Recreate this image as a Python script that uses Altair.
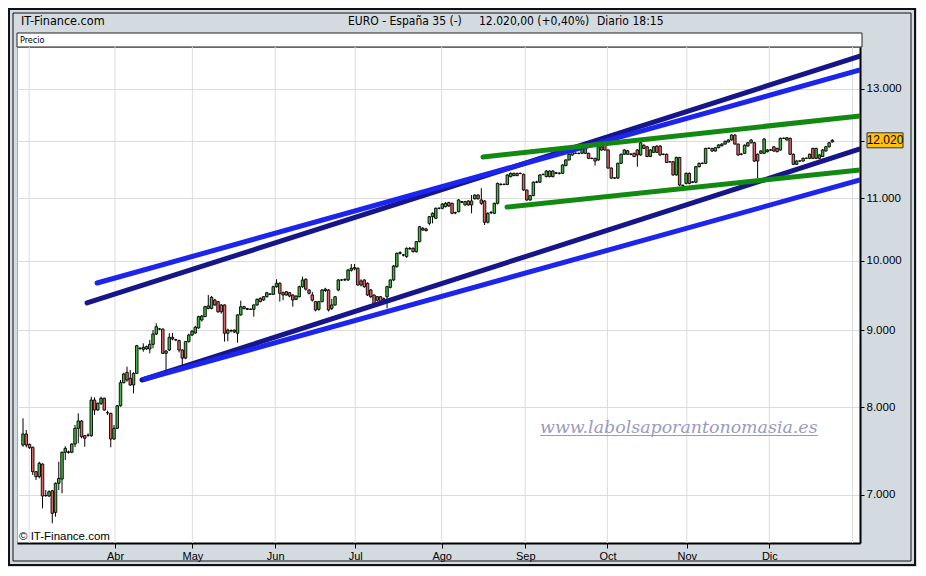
import json

import altair as alt
import pandas as pd

# daily candles (one per session)
opens = [
    7554, 7682, 7562, 7528, 7253, 7198, 7338, 6992, 6989, 7045,
    6817, 7126, 7172, 7471, 7475, 7471, 7565, 7749, 7836, 7662,
    7667, 7662, 8090, 7968, 8050, 8112, 7935, 7928, 7624, 7749,
    8020, 8307, 8439, 8363, 8278, 8426, 8749, 8741, 8745, 8745,
    8807, 8947, 9015, 9015, 8687, 8731, 8902, 8870, 8857, 8731,
    8624, 8844, 8933, 8960, 9030, 9140, 9187, 9303, 9303, 9423,
    9399, 9352, 9352, 8957, 8995, 8975, 8957, 9211, 9327, 9300,
    9290, 9290, 9352, 9446, 9423, 9470, 9510, 9505, 9616, 9666,
    9495, 9542, 9528, 9495, 9432, 9470, 9616, 9725,
    9568, 9495, 9399, 9290, 9399, 9560, 9568, 9303, 9352, 9568,
    9715, 9715, 9715, 9860, 9880, 9890, 9700, 9715, 9666, 9568,
    9495, 9420, 9470, 9420, 9470, 9606, 9715, 9914, 10118, 10092,
    10066, 10190, 10195, 10143, 10299, 10511, 10500, 10591, 10699, 10673,
    10837, 10837, 10864, 10930, 10919, 10760, 10781,
    10947, 10892, 10958, 10892, 10995, 11058, 10975, 10958, 10608, 10764,
    10754, 10919, 11238, 11240, 11238, 11372, 11390, 11430, 11430, 11412,
    11143, 10975, 11047, 11276, 11276, 11412, 11372, 11470, 11372, 11430,
    11430, 11430, 11565, 11665, 11754, 11784, 11780, 11784, 11872, 11784,
    11694, 11694, 11665, 11901, 11930, 11844, 11522, 11350, 11347, 11605,
    11767, 11830,
    11767, 11784, 11844, 11754, 11930, 11901, 11727, 11801, 11915, 11915,
    11767, 11767, 11633, 11633, 11401, 11710, 11216, 11256, 11430, 11276,
    11276, 11545, 11605, 11605, 11872, 11872, 11825, 11885, 11920, 11951,
    11990, 12026, 12117, 11951, 11767, 11784, 11975, 11975, 11975, 11767,
    11784, 11784, 11813, 11844, 11901, 11872, 11844, 12056, 12026, 12056,
    11767, 11588, 11646, 11646, 11694, 11694, 11872, 11694, 11754, 11727,
    11825, 11901, 11990,
]
highs = [
    7868, 7729, 7570, 7535, 7260, 7364, 7345, 7053, 7050, 7055,
    7135, 7364, 7480, 7540, 7490, 7575, 7788, 7928, 7845, 7670,
    7690, 8131, 8124, 8060, 8131, 8120, 7960, 7935, 7788, 8030,
    8341, 8434, 8512, 8469, 8440, 8800, 8770, 8821, 8790, 8866,
    9002, 9094, 9030, 9020, 8730, 8957, 8960, 8880, 8870, 8740,
    8850, 8950, 9000, 9060, 9200, 9210, 9340, 9495, 9480, 9440,
    9410, 9360, 9360, 9020, 9010, 9010, 9220, 9413, 9340, 9310,
    9300, 9360, 9445, 9460, 9480, 9540, 9520, 9630, 9725, 9680,
    9545, 9550, 9540, 9505, 9490, 9630, 9764, 9740,
    9580, 9540, 9410, 9410, 9580, 9600, 9580, 9440, 9480, 9730,
    9730, 9740, 9880, 9954, 9954, 9900, 9725, 9725, 9680, 9580,
    9500, 9480, 9480, 9460, 9630, 9725, 9940, 10130, 10150, 10110,
    10210, 10215, 10210, 10310, 10550, 10530, 10520, 10710, 10770, 10850,
    10850, 10920, 10940, 10945, 10930, 10780, 10990,
    10960, 10960, 10970, 11058, 11070, 11070, 11173, 10970, 10770, 10790,
    10930, 11270, 11260, 11255, 11415, 11445, 11440, 11440, 11440, 11425,
    11150, 11060, 11290, 11300, 11415, 11425, 11485, 11480, 11485, 11455,
    11445, 11590, 11680, 11780, 11830, 11800, 11800, 11890, 11885, 11795,
    11710, 11705, 11915, 11915, 11945, 11855, 11535, 11360, 11620, 11780,
    11860, 11845,
    11785, 11795, 11860, 11990, 11945, 11915, 11860, 11915, 11930, 11930,
    11780, 11780, 11645, 11645, 11725, 11720, 11240, 11445, 11445, 11295,
    11560, 11620, 11620, 11885, 11890, 11885, 11900, 11950, 11965, 12015,
    12040, 12130, 12130, 11960, 11785, 11945, 11990, 12040, 11990, 11780,
    11840, 12060, 11860, 11860, 11915, 11885, 12070, 12070, 12080, 12070,
    11780, 11660, 11660, 11710, 11710, 11780, 11885, 11885, 11770, 11860,
    11915, 11990, 12040,
]
lows = [
    7534, 7528, 7510, 7217, 7162, 7180, 6859, 6982, 6980, 6704,
    6772, 7053, 7018, 7383, 7455, 7460, 7530, 7574, 7632, 7534,
    7650, 7650, 7908, 7960, 8029, 7960, 7910, 7528, 7612, 7740,
    8008, 8299, 8319, 8265, 8174, 8420, 8735, 8709, 8735, 8687,
    8754, 8933, 9000, 8680, 8469, 8718, 8860, 8850, 8700, 8533,
    8610, 8830, 8920, 8950, 9020, 9120, 9180, 9290, 9290, 9340,
    9240, 9230, 8844, 8850, 8970, 8960, 8830, 9200, 9290, 9280,
    9280, 9187, 9340, 9390, 9410, 9460, 9495, 9495, 9600, 9399,
    9420, 9485, 9460, 9327, 9420, 9460, 9600, 9560,
    9500, 9400, 9260, 9270, 9390, 9540, 9260, 9280, 9340, 9550,
    9700, 9700, 9700, 9840, 9860, 9630, 9620, 9600, 9480, 9450,
    9340, 9400, 9380, 9400, 9303, 9590, 9700, 9900, 10100, 10070,
    10050, 10170, 10130, 10130, 10290, 10470, 10460, 10560, 10591, 10660,
    10820, 10820, 10850, 10860, 10740, 10740, 10770,
    10920, 10880, 10880, 10754, 10980, 10980, 10892, 10564, 10590, 10740,
    10740, 10900, 11220, 11225, 11225, 11360, 11380, 11380, 11415, 11130,
    10960, 10960, 11040, 11260, 11265, 11395, 11360, 11360, 11360, 11420,
    11410, 11420, 11555, 11655, 11740, 11770, 11765, 11770, 11770, 11680,
    11680, 11565, 11650, 11830, 11830, 11510, 11335, 11335, 11335, 11595,
    11755, 11755,
    11750, 11715, 11545, 11740, 11860, 11715, 11715, 11790, 11790, 11740,
    11750, 11610, 11620, 11390, 11390, 11210, 11200, 11240, 11240, 11260,
    11260, 11535, 11590, 11595, 11860, 11810, 11815, 11875, 11910, 11940,
    11980, 12015, 11940, 11740, 11750, 11770, 11905, 11960, 11630, 11347,
    11770, 11770, 11800, 11830, 11810, 11800, 11830, 12045, 12015, 11755,
    11575, 11575, 11635, 11635, 11680, 11680, 11680, 11680, 11680, 11715,
    11815, 11890, 11980,
]
closes = [
    7682, 7554, 7523, 7253, 7198, 7346, 6989, 6995, 7035, 6807,
    7126, 7180, 7471, 7516, 7471, 7565, 7749, 7836, 7650, 7632,
    7667, 8090, 7968, 8050, 8112, 7968, 7935, 7624, 7749, 8020,
    8307, 8417, 8341, 8278, 8426, 8789, 8755, 8767, 8776, 8807,
    8947, 9047, 9015, 8687, 8718, 8902, 8880, 8866, 8731, 8624,
    8844, 8933, 8985, 9040, 9187, 9195, 9327, 9337, 9461, 9352,
    9255, 9255, 8957, 9000, 8990, 9000, 9211, 9327, 9300, 9290,
    9292, 9352, 9432, 9399, 9470, 9528, 9505, 9616, 9666, 9520,
    9528, 9495, 9480, 9423, 9480, 9616, 9715, 9580,
    9520, 9420, 9280, 9399, 9568, 9580, 9280, 9352, 9470, 9715,
    9715, 9720, 9864, 9890, 9900, 9641, 9641, 9616, 9495, 9470,
    9352, 9470, 9399, 9440, 9616, 9715, 9924, 10118, 10128, 10092,
    10195, 10195, 10143, 10299, 10537, 10484, 10474, 10699, 10754, 10837,
    10837, 10908, 10919, 10875, 10754, 10765, 10975,
    10936, 10947, 10892, 10958, 11058, 10995, 10919, 10608, 10754, 10770,
    10919, 11256, 11240, 11238, 11401, 11430, 11430, 11390, 11428, 11143,
    10975, 11047, 11276, 11280, 11401, 11410, 11470, 11372, 11470, 11440,
    11432, 11576, 11665, 11767, 11813, 11786, 11784, 11872, 11784, 11694,
    11690, 11646, 11901, 11844, 11844, 11522, 11347, 11347, 11605, 11767,
    11844, 11767,
    11770, 11727, 11754, 11975, 11872, 11727, 11844, 11901, 11801, 11754,
    11765, 11621, 11630, 11401, 11710, 11228, 11220, 11430, 11256, 11280,
    11545, 11605, 11607, 11872, 11875, 11825, 11885, 11935, 11951, 12000,
    12026, 12117, 11951, 11754, 11770, 11930, 11915, 12026, 11646, 11646,
    11825, 12044, 11844, 11846, 11825, 11813, 12056, 12058, 12067, 11767,
    11588, 11646, 11648, 11694, 11696, 11767, 11694, 11872, 11694, 11844,
    11901, 11975, 12020,
]

# month boundaries, in session index units
month_pos = [1.9, 28.3, 52.1, 77.6, 102.2, 128.8, 154.5, 179.8, 204.2, 229.6, 255.2]
month_names = ["Mar", "Abr", "May", "Jun", "Jul", "Ago", "Sep", "Oct", "Nov", "Dic", "Ene"]
price_ticks = [7000, 8000, 9000, 10000, 11000, 12000, 13000]

# hand drawn trend lines: (session, price) at both ends
line_names = ["canal_sup", "canal_sup2", "canal_inf", "canal_inf2", "verde_sup", "verde_inf"]
line_x0 = [19.7, 22.8, 36.6, 37.5, 141.5, 148.9]
line_p0 = [9380, 9670, 8341, 8354, 11718, 10858]
line_x1 = [257.5, 257.5, 257.5, 257.5, 257.5, 257.5]
line_p1 = [13665, 13380, 11862, 11314, 12474, 11488]
line_colors = ["#16168a", "#1c24f0", "#16168a", "#1c24f0", "#128a12", "#128a12"]

last_label = f"{closes[-1]:,}".replace(",", ".")

candles = pd.DataFrame(
    {"idx": range(len(closes)), "open": opens, "high": highs, "low": lows, "close": closes}
)
lines = pd.DataFrame(
    {
        "name": line_names + line_names,
        "idx": line_x0 + line_x1,
        "price": line_p0 + line_p1,
    }
)
grid = pd.DataFrame({"pos": month_pos})
last = pd.DataFrame({"price": [closes[-1]], "label": [last_label]})
deco = pd.DataFrame({"a": [0]})

xs = alt.Scale(domain=[-1.85, 257.5], nice=False, zero=False, padding=0)
ys = alt.Scale(type="log", domain=[6506, 13857], nice=False)

x_axis = alt.Axis(
    values=month_pos[1:-1],
    labelExpr=f"{json.dumps(month_names[1:-1])}[indexof({json.dumps(month_pos[1:-1])}, datum.value)]",
    grid=False,
    domainColor="black",
    domainWidth=2,
    tickColor="black",
    tickSize=5,
    labelPadding=2,
    labelFlush=False,
    title=None,
)
# the 12.000 label sits under the last-price box, so it is left blank
y_axis = alt.Axis(
    orient="right",
    values=price_ticks,
    labelExpr="datum.value == 12000 ? '' : replace(format(datum.value, ',d'), ',', '.')",
    grid=True,
    gridColor="#dcdcdc",
    domainColor="black",
    domainWidth=2,
    tickColor="black",
    tickSize=4,
    labelPadding=2,
    labelFontSize=11.5,
    title=None,
)

narrow = "Liberation Sans Narrow, DejaVu Sans Condensed, sans-serif"


def box(x, x2, y, y2, **kw):
    return alt.Chart(deco).mark_rect(**kw).encode(
        x=alt.value(x), x2=alt.value(x2), y=alt.value(y), y2=alt.value(y2)
    )


def label(text, x, y, **kw):
    return alt.Chart(deco).mark_text(text=text, align="left", baseline="middle", **kw).encode(
        x=alt.value(x), y=alt.value(y)
    )


frame_outer = box(-8, 898, -38, 518, fillOpacity=0, stroke="#111111", strokeWidth=2)
frame_inner = box(-4, 894, -34, 514, fillOpacity=0, stroke="#111111", strokeWidth=1)
precio_strip = box(0, 845, -14, 0, fill="white", stroke="#222222", strokeWidth=1)

header = alt.layer(
    label("IT-Finance.com", 4, -26, font=narrow, fontSize=12.5),
    label("EURO - España 35 (-)", 331, -26, font=narrow, fontSize=12),
    label("12.020,00 (+0,40%)", 462, -26, font=narrow, fontSize=12),
    label("Diario  18:15", 580, -26, font=narrow, fontSize=12),
    label("Precio", 3, -7, font=narrow, fontSize=9),
)

vgrid = alt.Chart(grid).mark_rule(color="#dcdcdc", strokeWidth=1).encode(
    x=alt.X("pos:Q", scale=xs, axis=x_axis)
)

wicks = alt.Chart(candles).mark_rule(color="black", strokeWidth=1).encode(
    x=alt.X("idx:Q", scale=xs, axis=x_axis),
    y=alt.Y("low:Q", scale=ys, axis=y_axis),
    y2="high:Q",
)
bodies = alt.Chart(candles).mark_bar(size=2.5, stroke="black", strokeWidth=0.9).encode(
    x=alt.X("idx:Q", scale=xs, axis=x_axis),
    y=alt.Y("open:Q", scale=ys, axis=y_axis),
    y2="close:Q",
    color=alt.condition("datum.open <= datum.close", alt.value("#3fb83f"), alt.value("#dc6464")),
)

trend = alt.Chart(lines).mark_line(strokeWidth=5, strokeCap="round", clip=True).encode(
    x=alt.X("idx:Q", scale=xs, axis=x_axis),
    y=alt.Y("price:Q", scale=ys, axis=y_axis),
    color=alt.Color("name:N", scale=alt.Scale(domain=line_names, range=line_colors), legend=None),
    detail="name:N",
)

watermark = alt.layer(
    alt.Chart(deco).mark_text(
        text="www.labolsaporantonomasia.es",
        align="left",
        baseline="alphabetic",
        font="DejaVu Serif",
        fontStyle="italic",
        fontSize=17.4,
        color="#9a9abf",
    ).encode(x=alt.value(523), y=alt.value(386)),
    alt.Chart(deco).mark_rule(color="#9a9abf", strokeWidth=1).encode(
        x=alt.value(523), x2=alt.value(801), y=alt.value(388.5)
    ),
)
copyright = label("© IT-Finance.com", 2, 490, font="Liberation Sans", fontSize=11.5, color="black")

price_box = alt.Chart(last).mark_rect(
    fill="#ffc20e", stroke="#333333", strokeWidth=1, yOffset=-7.5, y2Offset=7.5
).encode(
    x=alt.value(850), x2=alt.value(886),
    y=alt.Y("price:Q", scale=ys, axis=y_axis), y2="price:Q",
)
price_text = alt.Chart(last).mark_text(
    align="center", baseline="middle", font="Liberation Sans", fontSize=12, color="black"
).encode(
    x=alt.value(868), y=alt.Y("price:Q", scale=ys, axis=y_axis), text="label:N"
)

chart = (
    alt.layer(
        frame_outer, frame_inner, precio_strip, header,
        vgrid, wicks, bodies, trend,
        watermark, copyright, price_box, price_text,
    )
    .properties(
        width=843,
        height=496,
        padding={"left": 9, "top": 39, "right": 57, "bottom": 24},
        autosize=alt.AutoSizeParams(type="none"),
        background="#d4dbe0",
    )
    .configure_view(fill="white", stroke="#a8a8a8", strokeWidth=1)
    .configure_axis(labelFont="Liberation Sans", labelFontSize=11, labelColor="black")
)

chart.save("out.html", embed_options={"renderer": "svg", "actions": False})
